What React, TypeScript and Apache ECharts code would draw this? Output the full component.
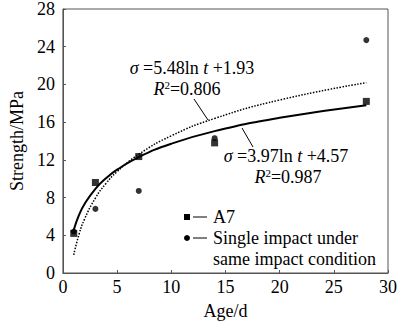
import React, { useEffect, useRef } from "react";
import * as echarts from "echarts";

const ageA7 = [1, 3, 7, 14, 28];
const strengthA7 = [4.2, 9.6, 12.35, 13.8, 18.2];
const ageSingle = [1, 3, 7, 14, 28];
const strengthSingle = [4.4, 6.8, 8.7, 14.3, 24.7];

// curves
const fitAge = [1, 1.5, 2, 3, 4, 5, 7, 10, 14, 20, 28];
const fitA7 = [4.57, 6.18, 7.32, 8.93, 10.07, 10.96, 12.3, 13.71, 15.05, 16.46, 17.8];
const fitSingle = [1.93, 4.15, 5.73, 7.95, 9.53, 10.75, 12.59, 14.55, 16.39, 18.35, 20.19];

const xTicks = [0, 5, 10, 15, 20, 25, 30];
const yTicks = [0, 4, 8, 12, 16, 20, 24, 28];

const FONT = "Liberation Serif";
const FS = 18;

export default function App() {
  const ref = useRef<HTMLDivElement>(null);
  useEffect(() => {
    document.body.style.margin = "0";
    const chart = echarts.init(ref.current!, null, { renderer: "svg" });
    const rich = {
      i: { fontStyle: "italic", fontFamily: FONT, fontSize: FS, color: "#000" },
      n: { fontFamily: FONT, fontSize: FS, color: "#000" },
      sup: { fontFamily: FONT, fontSize: 11, color: "#000", padding: [0, 0, 8, 0] },
    };
    const txt = (x: number, y: number, text: string, align = "center") => ({
      type: "text",
      x,
      y,
      style: {
        text,
        rich,
        align,
        verticalAlign: "middle",
        fontFamily: FONT,
        fontSize: FS,
        fill: "#000",
      },
    });
    const labelStyle = { fontFamily: FONT, fontSize: FS, color: "#000" };
    chart.setOption({
      animation: false,
      textStyle: { fontFamily: FONT },
      grid: { left: 51, right: 9, top: 5, bottom: 41, show: true, borderColor: "#555", borderWidth: 1 },
      xAxis: {
        type: "value",
        min: xTicks[0],
        max: xTicks[xTicks.length - 1],
        interval: 5,
        name: "Age/d",
        nameLocation: "middle",
        nameGap: 29,
        nameTextStyle: labelStyle,
        axisLine: { lineStyle: { color: "#555", width: 1 } },
        axisTick: { inside: true, length: 3, lineStyle: { color: "#555" } },
        axisLabel: { ...labelStyle, margin: 5 },
        splitLine: { show: false },
      },
      yAxis: {
        type: "value",
        min: yTicks[0],
        max: yTicks[yTicks.length - 1],
        interval: 4,
        name: "Strength/MPa",
        nameLocation: "middle",
        nameGap: 33,
        nameTextStyle: labelStyle,
        axisLine: { lineStyle: { color: "#555", width: 1 } },
        axisTick: { inside: true, length: 3, lineStyle: { color: "#555" } },
        axisLabel: { ...labelStyle, margin: 8 },
        splitLine: { show: false },
      },
      series: [
        {
          name: "A7 fit",
          type: "line",
          smooth: true,
          showSymbol: false,
          data: fitAge.map((t, i) => [t, fitA7[i]]),
          lineStyle: { color: "#000", width: 2 },
          z: 2,
        },
        {
          name: "Single impact fit",
          type: "line",
          smooth: true,
          showSymbol: false,
          data: fitAge.map((t, i) => [t, fitSingle[i]]),
          lineStyle: { color: "#000", width: 1.5, type: [1.5, 1.5] },
          z: 2,
        },
        {
          name: "Single impact under same impact condition",
          type: "scatter",
          symbol: "circle",
          symbolSize: 6,
          itemStyle: { color: "#000" },
          data: ageSingle.map((t, i) => [t, strengthSingle[i]]),
          z: 3,
        },
        {
          name: "A7",
          type: "scatter",
          symbol: "rect",
          symbolSize: 7,
          itemStyle: { color: "#000" },
          data: ageA7.map((t, i) => [t, strengthA7[i]]),
          z: 4,
        },
      ],
      graphic: [
        txt(192, 68, "{i|σ}{n| =5.48ln }{i|t}{n| +1.93}"),
        txt(187, 89, "{i|R}{sup|2}{n|=0.806}"),
        { type: "line", shape: { x1: 194, y1: 99, x2: 208, y2: 120 }, style: { stroke: "#000", lineWidth: 1 } },
        txt(286, 156, "{i|σ}{n| =3.97ln }{i|t}{n| +4.57}"),
        txt(288, 177, "{i|R}{sup|2}{n|=0.987}"),
        { type: "line", shape: { x1: 242, y1: 128, x2: 253, y2: 147 }, style: { stroke: "#000", lineWidth: 1 } },
        { type: "rect", shape: { x: 184, y: 214, width: 6, height: 6 }, style: { fill: "#000" } },
        { type: "line", shape: { x1: 193, y1: 217, x2: 207, y2: 217 }, style: { stroke: "#000", lineWidth: 1 } },
        txt(213, 217, "A7", "left"),
        { type: "circle", shape: { cx: 187, cy: 238, r: 3 }, style: { fill: "#000" } },
        { type: "line", shape: { x1: 193, y1: 238, x2: 207, y2: 238 }, style: { stroke: "#000", lineWidth: 1 } },
        txt(213, 238, "Single impact under", "left"),
        txt(213, 259, "same impact condition", "left"),
      ],
    });
    return () => chart.dispose();
  }, []);
  return <div ref={ref} style={{ width: 400, height: 325 }} />;
}
